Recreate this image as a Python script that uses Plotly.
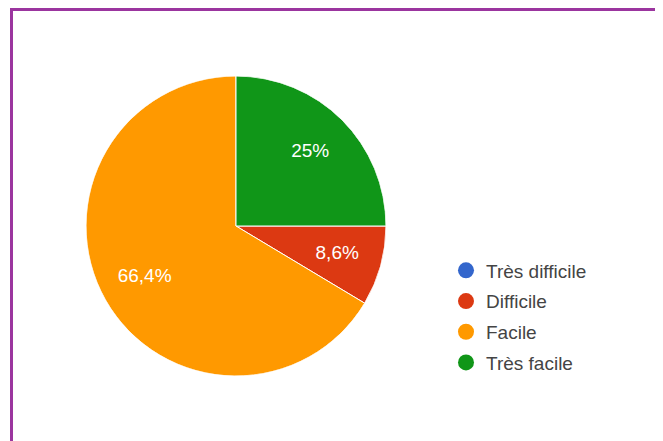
import plotly.graph_objects as go

categories = ["Très difficile", "Difficile", "Facile", "Très facile"]
values = [0, 8.6, 66.4, 25]
colors = ["#3366cc", "#dc3912", "#ff9900", "#109618"]

labels_txt = [("" if v == 0 else (f"{v:g}".replace(".", ",") + "%")) for v in values]

W, H = 663, 441
OFF = 8  # page body margin
cx, cy, R = 236 - OFF, 226 - OFF, 150
dom = dict(x=[(cx - R) / W, (cx + R) / W], y=[1 - (cy + R) / H, 1 - (cy - R) / H])

START = 90  # first slice starts at 3 o'clock, clockwise
total = sum(values)
mids, widths, acc = [], [], 0.0
for v in values:
    mids.append(START + (acc + v / 2) / total * 360)
    widths.append(v / total * 360)
    acc += v

fig = go.Figure()
fig.add_trace(go.Barpolar(
    r=[1] * len(values), theta=mids, width=widths, base=0,
    marker=dict(color=colors, line=dict(color="white", width=1)),
    text=categories, hoverinfo="text", showlegend=False,
))
fig.add_trace(go.Scatterpolar(
    r=[0.7] * len(values), theta=mids, text=labels_txt, mode="text",
    textposition="middle center",
    textfont=dict(color="white", size=19, family="Liberation Sans, Arial"),
    showlegend=False, hoverinfo="skip",
))
for name, col in zip(categories, colors):
    fig.add_trace(go.Scatter(
        x=[None], y=[None], mode="markers", name=name, legendgroup=name,
        marker=dict(color=col, size=20, symbol="circle"),
    ))

fig.update_layout(
    width=W, height=H,
    margin=dict(l=0, r=0, t=0, b=0),
    paper_bgcolor="white", plot_bgcolor="white",
    xaxis=dict(visible=False), yaxis=dict(visible=False),
    polar=dict(
        domain=dom, bgcolor="rgba(0,0,0,0)", bargap=0,
        radialaxis=dict(range=[0, 1], visible=False),
        angularaxis=dict(rotation=90, direction="clockwise", visible=False),
    ),
    showlegend=True,
    legend=dict(x=(446 - OFF) / W, y=1 - (251.5 - OFF) / H, xanchor="left", yanchor="top",
                font=dict(size=19, color="#444", family="Liberation Sans, Arial"),
                tracegroupgap=3, bgcolor="rgba(0,0,0,0)", itemsizing="trace"),
    shapes=[dict(type="rect", xref="paper", yref="paper",
                 x0=(11.5 - OFF) / W, x1=(661.5 - OFF) / W, y0=-0.05, y1=1 - (9.5 - OFF) / H,
                 line=dict(color="#9b359f", width=3))],
)
fig.write_html("out.html")
